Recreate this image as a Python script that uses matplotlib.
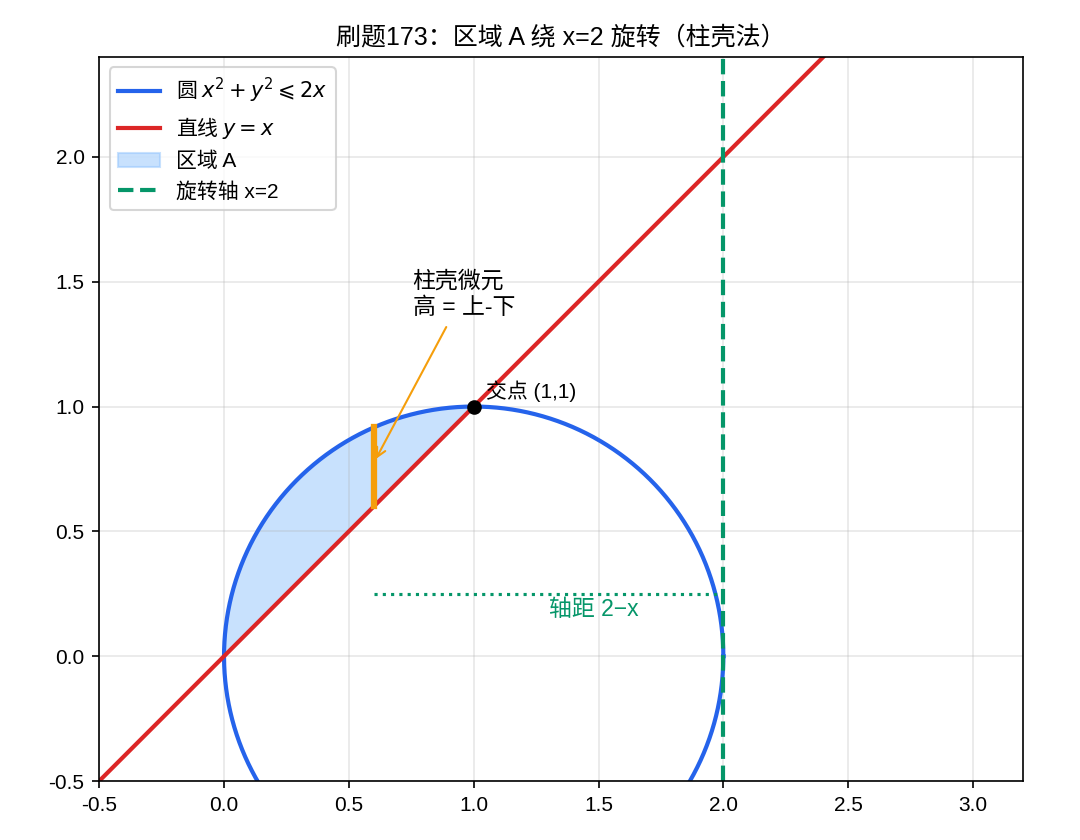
import numpy as np
import matplotlib
matplotlib.use("Agg")
import matplotlib.pyplot as plt

plt.rcParams['font.family'] = ['Liberation Sans', 'Noto Sans CJK SC', 'DejaVu Sans']
plt.rcParams['axes.unicode_minus'] = False

# ---------- problem data ----------
circle_center = (1.0, 0.0)
circle_radius = 1.0
axis_x = 2.0              # rotation axis x=2
shell_x = 0.6             # sample shell position
dist_y = 0.25             # height of the "distance" marker
cross_pt = (1.0, 1.0)     # intersection of circle and y=x
line_x = [-0.5, 2.4]
x_ticks = [-0.5, 0.0, 0.5, 1.0, 1.5, 2.0, 2.5, 3.0]
y_ticks = [-0.5, 0.0, 0.5, 1.0, 1.5, 2.0]

BLUE = "#2563eb"
RED = "#dc2626"
GREEN = "#059669"
ORANGE = "#f59e0b"
FILL = "#93c5fd"

fig = plt.figure(figsize=(7.2, 5.6), dpi=150)
ax = fig.add_axes([0.0917, 0.0702, 0.8556, 0.8619])

t = np.linspace(0, 2 * np.pi, 600)
cx, cy = circle_center
ax.plot(cx + circle_radius * np.cos(t), cy + circle_radius * np.sin(t),
        color=BLUE, lw=2, label=r'圆 $x^2+y^2\leqslant 2x$')
ax.plot(line_x, line_x, color=RED, lw=2, label=r'直线 $y=x$')

xs = np.linspace(0, cross_pt[0], 300)
upper = np.sqrt(np.clip(circle_radius**2 - (xs - cx)**2, 0, None)) + cy
ax.fill_between(xs, xs, upper, color=FILL, alpha=0.5, label='区域 A')

ax.axvline(axis_x, color=GREEN, ls='--', lw=2, label='旋转轴 x=2')

# shell element
top = np.sqrt(circle_radius**2 - (shell_x - cx)**2) + cy
ax.plot([shell_x, shell_x], [shell_x, top], color=ORANGE, lw=3,
        solid_capstyle='projecting')
ax.annotate('柱壳微元\n高 = 上-下', xy=(shell_x, 0.775), xytext=(0.755, 1.35),
            fontsize=11, ha='left', va='bottom',
            arrowprops=dict(arrowstyle='->', color=ORANGE, lw=1))

ax.plot(*cross_pt, 'o', color='black', ms=6)
ax.text(cross_pt[0] + 0.05, cross_pt[1] + 0.035, '交点 (1,1)', fontsize=10)

# distance to axis
ax.plot([shell_x, axis_x], [dist_y, dist_y], color=GREEN, ls=':', lw=1.5)
ax.text(1.3, 0.235, '轴距 2−x', color=GREEN, fontsize=11, ha='left', va='top')

ax.set_xlim(-0.5, 3.2)
ax.set_ylim(-0.5, 2.4)
ax.set_aspect('equal')
ax.set_xticks(x_ticks)
ax.set_yticks(y_ticks)
ax.grid(True, alpha=0.3)
ax.set_title('刷题173：区域 A 绕 x=2 旋转（柱壳法）', fontsize=12)
leg = ax.legend(loc='upper left', fontsize=10)
# mathtext labels only use the first family for plain text
for txt in leg.get_texts():
    if '$' in txt.get_text():
        txt.set_fontfamily('Noto Sans CJK SC')

fig.savefig('out.png', dpi=150)
